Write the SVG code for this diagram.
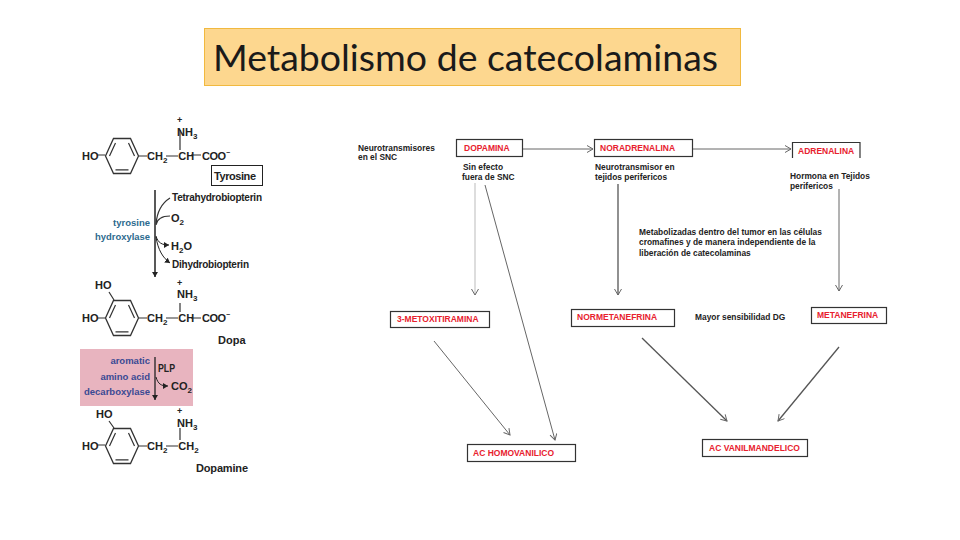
<svg xmlns="http://www.w3.org/2000/svg" width="960" height="540" viewBox="0 0 960 540">
<defs>
<marker id="open" markerWidth="10" markerHeight="10" refX="7" refY="4" orient="auto" markerUnits="userSpaceOnUse"><path d="M1 0.500L7 4L1 7.500" fill="none" stroke="#666" stroke-width="1"/></marker>
<marker id="solid" markerWidth="7" markerHeight="7" refX="5" refY="3" orient="auto" markerUnits="userSpaceOnUse"><path d="M0 0L5 3L0 6Z" fill="#222"/></marker>
<g id="ring"><path d="M-8.500-17.500L8.500-17.500L16.500 0L8.500 17.500L-8.500 17.500L-16.500 0Z" fill="none" stroke="#333" stroke-width="1.300"/><path d="M-12.500 0L-6.500-13M12.500 0L6.500-13M-6.500 13.800H6.500" fill="none" stroke="#333" stroke-width="1.200"/></g>
</defs>
<style>
text{font-family:"Liberation Sans",Arial,sans-serif}
.box{fill:#fff;stroke:#333;stroke-width:1.200}
.red{fill:#e8212e;font-size:8.500px;font-weight:700}
.note{fill:#222;font-size:8.400px;font-weight:700}
.chem{fill:#222;font-size:11px;font-weight:700}
.sub{font-size:8px}
.bond{fill:none;stroke:#333;stroke-width:1.200}
.enz{fill:#2c6a8e;font-size:9.500px;font-weight:700;text-anchor:end}
.enz2{fill:#3a4a94;font-size:9.500px;font-weight:700;text-anchor:end}
.conn{fill:none;stroke:#666;stroke-width:1;marker-end:url(#open)}
.dark{stroke:#555;stroke-width:1.300}
.light{stroke:#bbb}
</style>

<g id="title">
<rect x="204.500" y="28.500" width="536" height="57" fill="#fdd78f" stroke="#f1b93f" stroke-width="1"/>
<text x="213" y="71" font-size="36" fill="#1a1a1a" textLength="505" lengthAdjust="spacingAndGlyphs" style="font-family:Lato,'Liberation Sans',sans-serif">Metabolismo de catecolaminas</text>
</g>

<g id="tyrosine">
<use href="#ring" x="122" y="156"/>
<path class="bond" d="M97 155H105M139 156H147M166 156H178M180 130V150M191 155H201"/>
<text class="chem" x="82" y="160">HO</text>
<text class="chem" x="147" y="160">CH<tspan class="sub" dy="3">2</tspan><tspan dy="-3" dx="11">CH</tspan></text>
<text class="chem" x="202" y="160" textLength="24">COO</text>
<text x="226" y="155" font-size="7" fill="#222" font-weight="700">−</text>
<text x="177" y="123" font-size="9" fill="#222" font-weight="700">+</text>
<text class="chem" x="177" y="136">NH<tspan class="sub" dy="3">3</tspan></text>
<rect x="211.500" y="165.500" width="51" height="20" fill="#fff" stroke="#222" stroke-width="1"/>
<text class="chem" x="214" y="180" textLength="42">Tyrosine</text>
</g>

<g id="tyrosine-hydroxylase">
<path d="M155 190V277" fill="none" stroke="#222" stroke-width="1.500" marker-end="url(#solid)"/>
<path class="bond" d="M156 224C157 212 162 203 170 198M156 225C157 219 161 216 170 216" stroke-width="1"/>
<path d="M156 236C158 243 162 245 169 245" fill="none" stroke="#222" stroke-width="1" marker-end="url(#solid)"/>
<path d="M156 237C158 250 163 258 170 263" fill="none" stroke="#222" stroke-width="1" marker-end="url(#solid)"/>
<text class="enz" x="150" y="226">tyrosine</text>
<text class="enz" x="150" y="240" textLength="55" lengthAdjust="spacingAndGlyphs">hydroxylase</text>
<text x="172" y="201" font-size="10" font-weight="700" fill="#222" textLength="90">Tetrahydrobiopterin</text>
<text class="chem" x="171" y="222">O<tspan class="sub" dy="3">2</tspan></text>
<text class="chem" x="171" y="250">H<tspan class="sub" dy="3">2</tspan><tspan dy="-3">O</tspan></text>
<text x="172" y="268" font-size="10" font-weight="700" fill="#222" textLength="77">Dihydrobiopterin</text>
</g>

<g id="dopa">
<use href="#ring" x="122" y="318"/>
<path class="bond" d="M97 318H105M139 318H147M166 318H178M180 303V312M191 318H201M109 292L114 300"/>
<text class="chem" x="95" y="289">HO</text>
<text class="chem" x="82" y="322">HO</text>
<text class="chem" x="147" y="322">CH<tspan class="sub" dy="3">2</tspan><tspan dy="-3" dx="11">CH</tspan></text>
<text class="chem" x="202" y="322" textLength="24">COO</text>
<text x="226" y="317" font-size="7" fill="#222" font-weight="700">−</text>
<text x="177" y="286" font-size="9" fill="#222" font-weight="700">+</text>
<text class="chem" x="177" y="298">NH<tspan class="sub" dy="3">3</tspan></text>
<text class="chem" x="218" y="344">Dopa</text>
</g>

<g id="decarboxylase">
<rect x="80" y="349" width="113" height="57" fill="#e8b4bf"/>
<path d="M155 357V400" fill="none" stroke="#222" stroke-width="1.300" marker-end="url(#solid)"/>
<path d="M156 377C158 384 161 386 168 386" fill="none" stroke="#222" stroke-width="1" marker-end="url(#solid)"/>
<text class="enz2" x="150" y="364">aromatic</text>
<text class="enz2" x="150" y="380">amino acid</text>
<text class="enz2" x="150" y="395" textLength="66" lengthAdjust="spacingAndGlyphs">decarboxylase</text>
<text class="chem" x="158" y="372" textLength="17" lengthAdjust="spacingAndGlyphs">PLP</text>
<text class="chem" x="171" y="390">CO<tspan class="sub" dy="3">2</tspan></text>
</g>

<g id="dopamine">
<use href="#ring" x="122" y="446"/>
<path class="bond" d="M97 445H105M139 446H147M166 446H178M180 428V440M109 421L114 428"/>
<text class="chem" x="96" y="418">HO</text>
<text class="chem" x="82" y="450">HO</text>
<text class="chem" x="147" y="450">CH<tspan class="sub" dy="3">2</tspan><tspan dy="-3" dx="11">CH</tspan><tspan class="sub" dy="3">2</tspan></text>
<text x="177" y="414" font-size="9" fill="#222" font-weight="700">+</text>
<text class="chem" x="177" y="427">NH<tspan class="sub" dy="3">3</tspan></text>
<text class="chem" x="196" y="472" textLength="52">Dopamine</text>
</g>

<g id="connectors">
<path class="conn" d="M519 149H593"/>
<path class="conn" d="M692 149H791"/>
<path class="conn light" d="M475 183V295"/>
<path class="conn" d="M485 185L555 440"/>
<path class="conn dark" d="M618 184V295"/>
<path class="conn" d="M839 189V291"/>
<path class="conn" d="M434 341L510 435"/>
<path class="conn dark" d="M642 338L727 421"/>
<path class="conn dark" d="M839 347L778 421"/>
</g>

<g id="neurotransmisores"><text class="note" x="358" y="151">Neurotransmisores</text><text class="note" x="358" y="160">en el SNC</text></g>
<g id="dopamina"><rect class="box" x="456.500" y="139.500" width="66" height="17"/><text class="red" x="464" y="151">DOPAMINA</text><text class="note" x="463" y="170">Sin efecto</text><text class="note" x="462" y="180">fuera de SNC</text></g>
<g id="noradrenalina"><rect class="box" x="594.500" y="139.500" width="98" height="17"/><text class="red" x="600" y="151">NORADRENALINA</text><text class="note" x="595" y="170">Neurotransmisor en</text><text class="note" x="595" y="180">tejidos perifericos</text></g>
<g id="adrenalina"><path class="box" d="M792.500 158V142.500H860V158" /><text class="red" x="798" y="154">ADRENALINA</text><text class="note" x="790" y="179">Hormona en Tejidos</text><text class="note" x="790" y="189">perifericos</text></g>
<g id="metabolizadas"><text class="note" x="639" y="235">Metabolizadas dentro del tumor en  las células</text><text class="note" x="639" y="245">cromafines y de manera independiente  de la</text><text class="note" x="639" y="256">liberación de catecolaminas</text></g>
<g id="metoxitiramina"><rect class="box" x="390.500" y="311.500" width="99" height="16"/><text class="red" x="397" y="322">3-METOXITIRAMINA</text></g>
<g id="normetanefrina"><rect class="box" x="571.500" y="309.500" width="103" height="17"/><text class="red" x="577" y="320">NORMETANEFRINA</text></g>
<g id="sensibilidad"><text class="note" x="695" y="320">Mayor sensibilidad DG</text></g>
<g id="metanefrina"><rect class="box" x="811.500" y="307.500" width="75" height="16"/><text class="red" x="817" y="318">METANEFRINA</text></g>
<g id="ac-homovanilico"><rect class="box" x="467.500" y="444.500" width="108" height="17"/><text class="red" x="473" y="456">AC HOMOVANILICO</text></g>
<g id="ac-vanilmandelico"><rect class="box" x="702.500" y="439.500" width="105" height="17"/><text class="red" x="709" y="451">AC VANILMANDELICO</text></g>
</svg>
